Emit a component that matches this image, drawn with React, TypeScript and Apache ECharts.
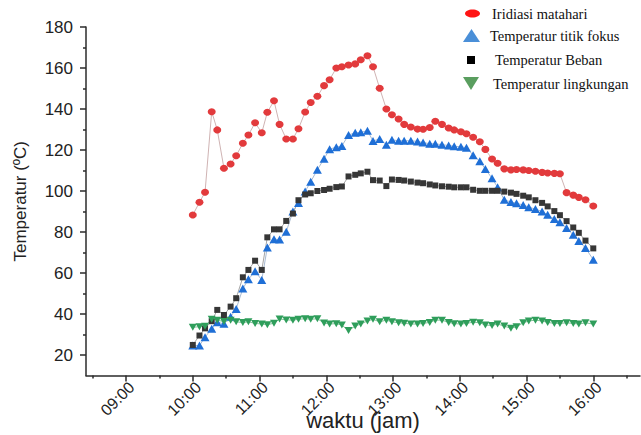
import React, { useEffect, useRef } from "react";
import * as echarts from "echarts";

const times = [
  "10:00", "10:06", "10:11", "10:17", "10:22", "10:28", "10:34", "10:39", "10:45", "10:50",
  "10:56", "11:02", "11:07", "11:13", "11:18", "11:24", "11:30", "11:35", "11:41", "11:46",
  "11:52", "11:58", "12:03", "12:09", "12:14", "12:20", "12:26", "12:31", "12:37", "12:42",
  "12:48", "12:54", "12:59", "13:05", "13:10", "13:16", "13:22", "13:27", "13:33", "13:38",
  "13:44", "13:50", "13:55", "14:01", "14:06", "14:12", "14:18", "14:23", "14:29", "14:34",
  "14:40", "14:46", "14:51", "14:57", "15:02", "15:08", "15:14", "15:19", "15:25", "15:30",
  "15:36", "15:42", "15:47", "15:53", "16:00",
];

const iridiasi = [
  88.3, 94.5, 99.4, 138.7, 129.8, 111.1, 113.2, 117.2, 123.3, 127.3,
  133.3, 128.4, 138.4, 144.0, 132.5, 125.4, 125.4, 130.4, 138.5, 143.2,
  146.2, 151.4, 154.3, 160.0, 160.6, 161.5, 162.0, 164.0, 166.0, 160.6,
  150.1, 140.0, 137.2, 135.1, 132.5, 131.2, 130.2, 130.1, 131.0, 134.0,
  132.5, 130.7, 129.8, 128.9, 127.9, 126.2, 124.0, 120.3, 115.6, 113.5,
  110.8, 110.3, 110.5, 110.3, 110.0, 109.6, 109.1, 108.8, 108.6, 108.4,
  99.2, 98.0, 96.9, 95.7, 92.7,
];

const titikFokus = [
  24.6, 24.6, 28.7, 32.8, 36.0, 35.2, 38.7, 42.5, 52.4, 56.9,
  60.8, 56.6, 72.5, 76.5, 76.3, 80.1, 90.0, 94.2, 99.8, 104.5,
  110.4, 115.7, 120.4, 121.4, 122.0, 127.3, 128.4, 128.6, 129.4, 124.4,
  125.4, 122.6, 125.0, 124.5, 124.5, 124.5, 124.2, 123.6, 123.1, 123.0,
  122.6, 122.2, 121.8, 121.6, 121.1, 117.5, 114.5, 110.7, 106.2, 101.8,
  95.7, 94.6, 94.0, 93.2, 92.1, 91.2, 90.0, 88.4, 86.3, 84.8,
  81.9, 78.6, 75.6, 72.2, 66.5,
];

const beban = [
  24.9, 29.5, 33.0, 36.5, 42.0, 39.5, 43.6, 47.7, 57.9, 61.5,
  66.0, 61.5, 77.4, 81.3, 81.3, 85.4, 89.0, 95.5, 98.3, 98.9,
  100.0, 100.5, 101.1, 101.9, 102.2, 107.1, 107.9, 108.6, 109.4, 105.3,
  105.1, 102.4, 105.6, 105.4, 105.1, 104.6, 104.1, 103.8, 103.2, 102.7,
  102.3, 102.1, 101.8, 101.8, 101.8, 100.6, 100.1, 100.1, 100.1, 100.1,
  99.7, 99.2, 98.6, 97.7, 96.9, 95.5, 94.2, 92.5, 90.2, 88.2,
  85.3, 82.2, 79.6, 75.8, 72.0,
];

const lingkungan = [
  33.5, 33.8, 34.0, 37.5, 37.0, 36.3, 37.0, 36.2, 35.8, 36.2,
  35.4, 35.1, 34.8, 35.5, 37.6, 37.1, 37.0, 37.4, 37.7, 37.4,
  37.7, 35.6, 35.1, 35.3, 34.6, 31.9, 34.1, 35.1, 36.6, 37.4,
  36.2, 37.0, 36.2, 35.7, 35.5, 35.1, 35.1, 35.4, 35.9, 37.0,
  37.0, 35.9, 35.3, 35.1, 35.4, 36.0, 35.7, 34.6, 34.4, 35.1,
  34.1, 33.0, 33.8, 35.7, 36.6, 37.0, 36.6, 35.9, 35.4, 35.4,
  35.7, 35.4, 35.1, 35.7, 35.1,
];

const seriesNames = [
  "Iridiasi matahari",
  "Temperatur titik fokus",
  "Temperatur Beban",
  "Temperatur lingkungan",
];

const yMajorTicks = [20, 40, 60, 80, 100, 120, 140, 160, 180];
const yMinorTicks = [30, 50, 70, 90, 110, 130, 150, 170];
const xMajorTicks = ["09:00", "10:00", "11:00", "12:00", "13:00", "14:00", "15:00", "16:00"];
const xMinorTicks = ["08:30", "09:30", "10:30", "11:30", "12:30", "13:30", "14:30", "15:30", "16:30"];

const toMin = (s: string) => {
  const [h, m] = s.split(":").map(Number);
  return h * 60 + m;
};
const fmt = (v: number) => {
  const h = Math.floor(v / 60);
  const m = Math.round(v - h * 60);
  return `${String(h).padStart(2, "0")}:${String(m).padStart(2, "0")}`;
};

export default function App() {
  const ref = useRef<HTMLDivElement>(null);
  useEffect(() => {
    const chart = echarts.init(ref.current!, null, { renderer: "svg" });
    const X_MIN = toMin("08:24");
    const X_MAX = toMin("16:42");
    const LABEL_SHIFT = 5; // minutes: labels sit slightly right of their ticks, as in the reference
    const pts = (vals: number[]) => times.map((t, i) => [toMin(t), vals[i]]);
    const axisColor = "#2b2b2b";
    const labelFont = "Liberation Sans, Arial, sans-serif";
    const serif = "Liberation Serif, Times New Roman, serif";

    chart.setOption({
      animation: false,
      backgroundColor: "#ffffff",
      grid: {
        left: 86,
        right: 1,
        top: 27,
        bottom: 59.5,
        containLabel: false,
        outerBoundsMode: "none",
      },
      xAxis: [
        {
          type: "value",
          min: X_MIN,
          max: X_MAX,
          position: "bottom",
          axisLine: { show: true, onZero: false, lineStyle: { color: axisColor, width: 1.5 } },
          axisTick: {
            show: true,
            customValues: xMajorTicks.map(toMin),
            length: 6,
            lineStyle: { color: axisColor, width: 1.5 },
          },
          axisLabel: { show: false },
          splitLine: { show: false },
          name: "waktu (jam)",
          nameLocation: "middle",
          nameGap: 34,
          nameMoveOverlap: false,
          nameTextStyle: { fontSize: 22, fontFamily: labelFont, color: "#222" },
        },
        {
          type: "value",
          min: X_MIN,
          max: X_MAX,
          position: "bottom",
          axisLine: { show: false },
          axisTick: {
            show: true,
            customValues: xMinorTicks.map(toMin),
            length: 3,
            lineStyle: { color: axisColor, width: 1.5 },
          },
          axisLabel: { show: false },
          splitLine: { show: false },
        },
        {
          type: "value",
          min: X_MIN - LABEL_SHIFT,
          max: X_MAX - LABEL_SHIFT,
          position: "bottom",
          axisLine: { show: false },
          axisTick: { show: false },
          axisLabel: {
            show: true,
            customValues: xMajorTicks.map(toMin),
            rotate: 45,
            margin: 9,
            formatter: (v: number) => fmt(v),
            fontSize: 16,
            fontFamily: labelFont,
            color: "#222",
          },
          splitLine: { show: false },
        },
      ],
      yAxis: [
        {
          type: "value",
          min: 10,
          max: 180,
          position: "left",
          axisLine: { show: true, onZero: false, lineStyle: { color: axisColor, width: 1.5 } },
          axisTick: {
            show: true,
            customValues: yMajorTicks,
            length: 6,
            lineStyle: { color: axisColor, width: 1.5 },
          },
          axisLabel: {
            show: true,
            customValues: yMajorTicks,
            margin: 13,
            fontSize: 17,
            fontFamily: labelFont,
            color: "#222",
          },
          splitLine: { show: false },
          name: "Temperatur (ºC)",
          nameLocation: "middle",
          nameRotate: 90,
          nameGap: 57,
          nameMoveOverlap: false,
          nameTextStyle: { fontSize: 17, fontFamily: labelFont, color: "#222" },
        },
        {
          type: "value",
          min: 10,
          max: 180,
          position: "left",
          axisLine: { show: false },
          axisTick: {
            show: true,
            customValues: yMinorTicks,
            length: 3,
            lineStyle: { color: axisColor, width: 1.5 },
          },
          axisLabel: { show: false },
          splitLine: { show: false },
        },
      ],
      series: [
        {
          type: "line",
          name: seriesNames[0],
          data: pts(iridiasi),
          symbol: "circle",
          symbolSize: [8, 7],
          showSymbol: true,
          itemStyle: { color: "#e23a3c" },
          lineStyle: { color: "#cfb3b3", width: 1 },
        },
        {
          type: "line",
          name: seriesNames[1],
          data: pts(titikFokus),
          symbol: "triangle",
          symbolSize: [9, 8],
          showSymbol: true,
          itemStyle: { color: "#1f6fd6" },
          lineStyle: { color: "#a9bbd3", width: 1 },
        },
        {
          type: "line",
          name: seriesNames[2],
          data: pts(beban),
          symbol: "rect",
          symbolSize: 6,
          showSymbol: true,
          itemStyle: { color: "#363636" },
          lineStyle: { color: "#a5a5a5", width: 1 },
        },
        {
          type: "line",
          name: seriesNames[3],
          data: pts(lingkungan),
          symbol: "path://M0,0L10,0L5,9Z",
          symbolSize: [8, 7],
          showSymbol: true,
          itemStyle: { color: "#2f9e5b" },
          lineStyle: { color: "#86c49b", width: 1 },
        },
      ],
      graphic: [
        { type: "ellipse", shape: { cx: 472.5, cy: 13.5, rx: 7.5, ry: 4 }, style: { fill: "#ff1414" } },
        {
          type: "text",
          x: 492,
          y: 13.5,
          style: { text: seriesNames[0], font: `14.5px ${serif}`, fill: "#111", verticalAlign: "middle" },
        },
        {
          type: "polygon",
          shape: { points: [[463, 42], [480, 42], [471.5, 29]] },
          style: { fill: "#4a8fd8" },
        },
        {
          type: "text",
          x: 490,
          y: 35.5,
          style: { text: seriesNames[1], font: `14.5px ${serif}`, fill: "#111", verticalAlign: "middle" },
        },
        { type: "rect", shape: { x: 467, y: 56, width: 8, height: 8 }, style: { fill: "#000" } },
        {
          type: "text",
          x: 495,
          y: 60,
          style: { text: seriesNames[2], font: `14.5px ${serif}`, fill: "#111", verticalAlign: "middle" },
        },
        {
          type: "polygon",
          shape: { points: [[463, 77], [479, 77], [471, 90]] },
          style: { fill: "#5a9e5f" },
        },
        {
          type: "text",
          x: 493,
          y: 84,
          style: { text: seriesNames[3], font: `14.5px ${serif}`, fill: "#111", verticalAlign: "middle" },
        },
      ],
    });
    return () => chart.dispose();
  }, []);
  return (
    <div
      ref={ref}
      style={{ position: "fixed", left: 0, top: 0, width: 641, height: 435, background: "#fff" }}
    />
  );
}
